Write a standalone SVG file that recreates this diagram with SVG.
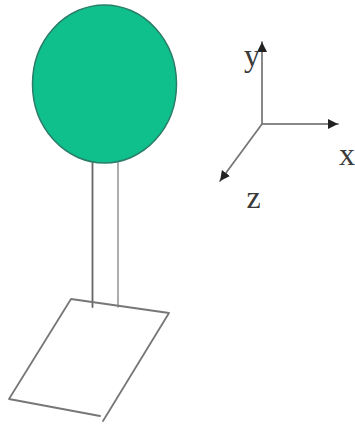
<svg xmlns="http://www.w3.org/2000/svg" width="355" height="425" viewBox="0 0 355 425">
<style>
.l{fill:none;stroke-linecap:round;stroke-linejoin:round}
.t{font-family:"Liberation Serif",serif;font-size:32px;fill:#3a3a3a;text-anchor:middle}
</style>
<defs>
<marker id="a" markerUnits="userSpaceOnUse" markerWidth="12" markerHeight="12" refX="10" refY="5" orient="auto"><path d="M0 0L10 5L0 10Z" fill="#222"/></marker>
</defs>
<rect width="355" height="425" fill="#fff"/>
<g id="connectors">
<path class="l" d="M92.500 163V307" stroke="#666" stroke-width="1.800"/>
<path class="l" d="M118 163V307" stroke="#999" stroke-width="1.600"/>
<path class="l" d="M262 124V42" stroke="#888" stroke-width="2" marker-end="url(#a)"/>
<path class="l" d="M262 124H338" stroke="#888" stroke-width="2" marker-end="url(#a)"/>
<path class="l" d="M262 124L220 181" stroke="#777" stroke-width="1.800" marker-end="url(#a)"/>
</g>
<g id="ball"><ellipse cx="104.500" cy="84" rx="72" ry="79" fill="#0fbf8c" stroke="#2a7d68" stroke-width="1.500"/></g>
<g id="plate"><path class="l" d="M103 421L169 313L71 299L9 399L100 416" stroke="#777" stroke-width="1.800"/></g>
<g id="label-y"><text class="t" x="252" y="66">y</text></g>
<g id="label-x"><text class="t" x="347" y="165">x</text></g>
<g id="label-z"><text class="t" x="253.500" y="208">z</text></g>
</svg>
